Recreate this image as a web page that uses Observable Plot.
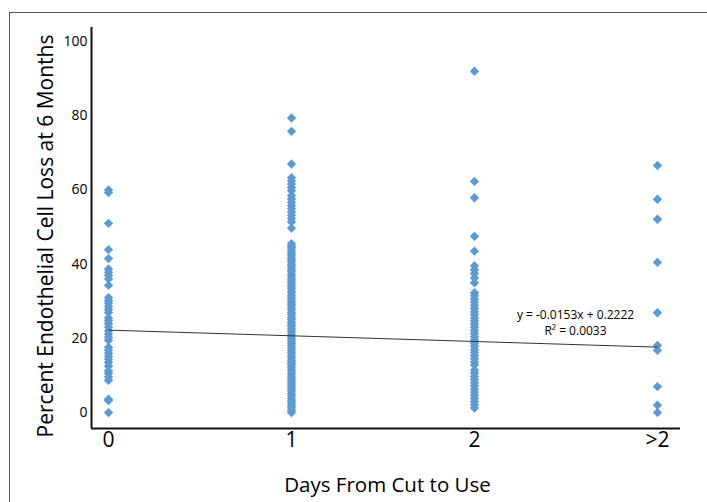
<!DOCTYPE html>
<html>
<head>
<meta charset="utf-8">
<script src="https://cdn.jsdelivr.net/npm/d3@7"></script>
<script src="https://cdn.jsdelivr.net/npm/@observablehq/plot@0.6"></script>
<style>
  html, body { margin: 0; padding: 0; background: #fff; overflow: hidden; width: 707px; height: 502px; }
  #frame { position: absolute; left: 9px; top: 12px; width: 900px; height: 700px; border: 1.5px solid #555; box-sizing: border-box; }
  #chart { position: absolute; left: 0; top: 0; }
</style>
</head>
<body>
<div id="frame"></div>
<div id="chart"></div>
<script>
// Category labels on the x axis
const xLabels = ["0", "1", "2", ">2"];
const yTicks = [0, 20, 40, 60, 80, 100];

// Percent endothelial cell loss, by days from cut to use
const day0 = [60, 59.3, 51, 43.9, 41.5, 38.7, 37.8, 37, 36, 34.3, 31, 30.2, 29.5, 28.6, 27.8, 27, 25.5, 24.8, 24, 23, 22, 21.2, 20.3, 19.5, 17.6, 16.8, 16, 15.2, 14.4, 13.5, 12.5, 11.2, 10.5, 9.6, 8.7, 3.6, 3.2, 0];

const day1 = [79.4, 75.8, 67, 63.3, 62.4, 61.6, 60.7, 59.8, 58.5, 57.6, 56.7, 55.8, 55, 54.1, 53.2, 52.3, 51.4, 49.7,
  45.5, 44.9, 44.4, 43.8, 43.1, 42.5, 41.8, 41.2, 40.6, 39.9, 39.3, 38.6, 38, 37.3, 36.7, 36, 35.4, 34.8, 34.1, 33.5, 32.8, 32.2, 31.5, 30.9, 30.2, 29.6, 29, 28.3, 27.7, 27, 26.4, 25.7, 25.1, 24.4, 23.8, 23.2, 22.5, 21.9, 21.2, 20.6, 19.9, 19.3, 18.7, 18, 17.4, 16.7, 16.1, 15.4, 14.8, 14.1, 13.5, 12.9, 12.2, 11.6, 10.9, 10.3, 9.6, 9, 8.3, 7.7, 7.1, 6.4, 5.8, 5.1, 4.5, 3.8, 3.2, 2.6, 1.9, 1.3, 0.6, 0];

const day2 = [92, 62.3, 57.9, 47.5, 43.5, 39.6, 38.5, 37.5, 36.3, 35, 32.3, 31.5,
  30.6, 29.8, 28.9, 28.1, 27.2, 26.4, 25.5, 24.7, 23.8, 23, 22.1, 21.3, 20.4, 19.6, 18.7, 17.9, 17, 16.2, 15.3, 14.5, 13.6, 12.8, 11.4, 10.6, 9.7, 8.9, 8, 7.2, 6.3, 5.5, 4.6, 3.8, 2.9, 2.1, 1.2];

const dayGt2 = [66.6, 57.5, 52.1, 40.5, 26.9, 18.1, 16.8, 7, 2, 0];

// Linear trend line (from the equation shown: y = -0.0153x + 0.2222, in percent)
const trendX = [0, 3];
const trendY = [22.22, 17.63];
const equationText = "y = -0.0153x + 0.2222\nR² = 0.0033";

const series = [day0, day1, day2, dayGt2];
const points = series.flatMap((vals, i) => vals.map(v => ({day: i, loss: v})));
const trend = trendX.map((x, i) => ({day: x, loss: trendY[i]}));

const blue = "#5B9BD5";

const chart = Plot.plot({
  width: 707,
  height: 502,
  marginLeft: 91,
  marginRight: 27,
  marginTop: 27,
  marginBottom: 74,
  style: { fontFamily: "'Open Sans', Lato, sans-serif", color: "#000", background: "transparent" },
  x: { domain: [-0.093, 3.126], axis: null },
  y: { domain: [-4.3, 103.8], axis: null },
  marks: [
    Plot.axisY({ ticks: yTicks, tickSize: 0, tickPadding: 4, fontSize: 14, label: null, tickFormat: d => String(d) }),
    Plot.axisX({ ticks: [0, 1, 2, 3], tickSize: 0, tickPadding: 4, fontSize: 21, label: null, tickFormat: i => xLabels[i] }),
    Plot.ruleX([-0.093], { stroke: "#111", strokeWidth: 2 }),
    Plot.ruleY([-4.3], { stroke: "#111", strokeWidth: 2 }),
    Plot.dot(points, { x: "day", y: "loss", symbol: "diamond2", r: 4.2, fill: blue, stroke: "none" }),
    Plot.line(trend, { x: "day", y: "loss", stroke: "#333", strokeWidth: 1 }),
    Plot.text([equationText], { frameAnchor: "top-left", dx: 484, dy: 294, fontSize: 12, lineHeight: 1.33, fill: "#000", textAnchor: "middle", lineAnchor: "middle" }),
    Plot.text(["Percent Endothelial Cell Loss at 6 Months"], { frameAnchor: "left", dx: -45, dy: 8, rotate: -90, fontSize: 21, fill: "#000", textAnchor: "middle", lineAnchor: "middle" }),
    Plot.text(["Days From Cut to Use"], { frameAnchor: "bottom", dx: 1.5, dy: 57, fontSize: 20.5, fill: "#000", textAnchor: "middle", lineAnchor: "middle" })
  ]
});
document.getElementById("chart").appendChild(chart);
</script>
</body>
</html>
